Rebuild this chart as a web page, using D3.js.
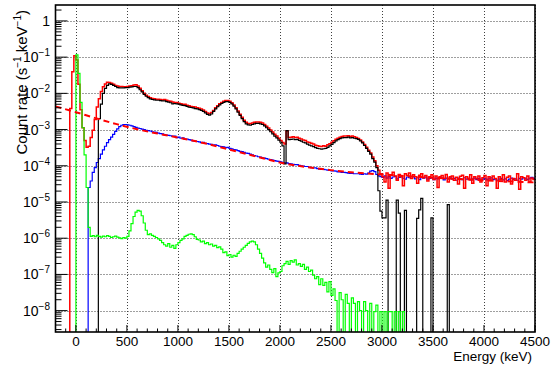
<!DOCTYPE html>
<html>
<head>
<meta charset="utf-8">
<script src="https://cdn.jsdelivr.net/npm/d3@7"></script>
<style>
  body { margin: 0; background: #fff; }
  svg { display: block; }
  text { font-family: "Liberation Sans", Arial, Helvetica, sans-serif; fill: #000; }
</style>
</head>
<body>
<div id="chart"></div>
<script>
// Histogram bin contents as log10(count rate), 20 keV bins.
const binWidth = 20;

const redStart = -60;
const redLog = [
  -2.42, -1.40, -0.96, -1.08, -1.75, -2.45, -2.95, -3.30, -3.49, -3.46,
  -3.22, -3.02, -2.72, -2.38, -2.15, -1.95, -1.82, -1.74, -1.69, -1.70,
  -1.72, -1.75, -1.78, -1.80, -1.81, -1.81, -1.82, -1.82, -1.81, -1.80,
  -1.79, -1.77, -1.76, -1.80, -1.86, -1.93, -2.00, -2.05, -2.09, -2.12,
  -2.14, -2.15, -2.16, -2.16, -2.17, -2.18, -2.17, -2.19, -2.21, -2.22,
  -2.24, -2.25, -2.25, -2.27, -2.29, -2.30, -2.30, -2.33, -2.34, -2.36,
  -2.37, -2.38, -2.40, -2.41, -2.43, -2.46, -2.50, -2.54, -2.56, -2.53,
  -2.47, -2.40, -2.34, -2.29, -2.25, -2.22, -2.20, -2.20, -2.22, -2.26,
  -2.32, -2.40, -2.49, -2.58, -2.66, -2.74, -2.80, -2.83, -2.84, -2.82,
  -2.80, -2.79, -2.79, -2.80, -2.82, -2.86, -2.91, -2.96, -3.01, -3.07,
  -3.13, -3.18, -3.24, -3.30, -3.36, -3.40, -3.03, -3.22, -3.21, -3.20,
  -3.22, -3.21, -3.24, -3.26, -3.29, -3.30, -3.34, -3.36, -3.38, -3.40,
  -3.43, -3.45, -3.46, -3.47, -3.45, -3.46, -3.42, -3.39, -3.35, -3.31,
  -3.27, -3.24, -3.21, -3.19, -3.18, -3.18, -3.17, -3.19, -3.18, -3.20,
  -3.22, -3.25, -3.29, -3.34, -3.41, -3.49, -3.57, -3.65, -3.76, -3.86,
  -4.00, -4.12,
  -4.22, -4.30, -4.45, -4.20, -4.62, -4.25, -4.18, -4.28, -4.40, -4.24,
  -4.30, -4.55, -4.22, -4.27, -4.20, -4.35, -4.25, -4.30, -4.48, -4.26,
  -4.22, -4.33, -4.27, -4.42, -4.30, -4.25, -4.38, -4.28, -4.60, -4.30,
  -4.27, -4.35, -4.24, -4.45, -4.30, -4.28, -4.40, -4.32, -4.50, -4.29,
  -4.26, -4.62, -4.30, -4.35, -4.25, -4.48, -4.30, -4.36, -4.28, -4.45,
  -4.33, -4.27, -4.55, -4.30, -4.40, -4.28, -4.35, -4.62, -4.30, -4.38,
  -4.25, -4.45, -4.32, -4.28, -4.50, -4.35, -4.40, -4.22, -4.65, -4.30,
  -4.33, -4.40, -4.28, -4.45, -4.34, -4.38
];

const blackStart = 220;
const blackLog = [
  -2.70, -2.30, -2.00, -1.86, -1.78, -1.74, -1.75, -1.78, -1.81, -1.84,
  -1.85, -1.85, -1.85, -1.84, -1.84, -1.83, -1.82, -1.81, -1.81, -1.84,
  -1.90, -1.96, -2.03, -2.08, -2.12, -2.15, -2.17, -2.18, -2.19, -2.19,
  -2.20, -2.21, -2.21, -2.23, -2.24, -2.26, -2.29, -2.28, -2.29, -2.30,
  -2.32, -2.33, -2.34, -2.36, -2.38, -2.39, -2.40, -2.42, -2.43, -2.45,
  -2.47, -2.50, -2.54, -2.58, -2.60, -2.57, -2.50, -2.43, -2.37, -2.32,
  -2.28, -2.25, -2.23, -2.23, -2.25, -2.29, -2.35, -2.43, -2.52, -2.61,
  -2.70, -2.78, -2.84, -2.87, -2.88, -2.86, -2.84, -2.83, -2.83, -2.84,
  -2.86, -2.90, -2.95, -3.00, -3.06, -3.12, -3.18, -3.23, -3.29, -3.35,
  -3.45, -3.95, -3.03, -3.28, -3.27, -3.26, -3.28, -3.27, -3.30, -3.32,
  -3.35, -3.37, -3.40, -3.43, -3.45, -3.47, -3.50, -3.52, -3.53, -3.54,
  -3.53, -3.52, -3.49, -3.45, -3.41, -3.36, -3.31, -3.28, -3.25, -3.23,
  -3.22, -3.22, -3.21, -3.23, -3.22, -3.24, -3.25, -3.27, -3.31, -3.37,
  -3.44, -3.52, -3.60, -3.68, -3.80, -3.90, -4.05, -4.69, -5.25, -5.44,
  -5.44, -4.95, null, null, null, null, -4.95, -5.31, null, null,
  -5.23, null, null, null, null, null, -5.45, -5.22, -4.90, null,
  null, null, null, -5.44, null, null, null, null, null, null,
  null, -5.07, null
];

const blueStart = 120;
const blueLog = [
  -4.60, -4.42, -4.18, -4.05, -3.91, -3.80, -3.68, -3.56, -3.46, -3.36,
  -3.28, -3.21, -3.13, -3.05, -2.98, -2.92, -2.88, -2.86, -2.86, -2.87,
  -2.88, -2.90, -2.92, -2.94, -2.96, -2.97, -2.99, -3.00, -3.02, -3.03,
  -3.04, -3.06, -3.07, -3.08, -3.10, -3.11, -3.12, -3.14, -3.15, -3.16,
  -3.17, -3.19, -3.18, -3.22, -3.21, -3.24, -3.23, -3.27, -3.26, -3.28,
  -3.29, -3.31, -3.32, -3.33, -3.34, -3.36, -3.35, -3.38, -3.39, -3.40,
  -3.41, -3.43, -3.42, -3.44, -3.46, -3.47, -3.48, -3.50, -3.49, -3.52,
  -3.53, -3.55, -3.56, -3.58, -3.60, -3.61, -3.63, -3.65, -3.66, -3.68,
  -3.70, -3.72, -3.73, -3.75, -3.76, -3.78, -3.79, -3.80, -3.82, -3.83,
  -3.84, -3.86, -3.87, -3.88, -3.89, -3.91, -3.92, -3.92, -3.94, -3.95,
  -3.96, -3.97, -3.97, -3.99, -4.00, -4.01, -4.02, -4.02, -4.04, -4.05,
  -4.06, -4.06, -4.08, -4.09, -4.10, -4.10, -4.11, -4.12, -4.13, -4.14,
  -4.14, -4.15, -4.17, -4.17, -4.18, -4.18, -4.19, -4.20, -4.21, -4.21,
  -4.22, -4.22, -4.22, -4.23, -4.24, -4.22, -4.23, -4.20, -4.15, -4.13,
  -4.16, -4.24, -4.28,
  -4.30, -4.32, -4.28, -4.34, -4.30, -4.35, -4.31, -4.29, -4.36, -4.32,
  -4.30, -4.34, -4.37, -4.31, -4.33, -4.35, -4.30, -4.36, -4.33, -4.38,
  -4.32, -4.34, -4.31, -4.37, -4.35, -4.33, -4.38, -4.34, -4.36, -4.32,
  -4.35, -4.39, -4.34, -4.36, -4.33, -4.37, -4.35, -4.40, -4.34, -4.36,
  -4.38, -4.33, -4.37, -4.35, -4.39, -4.36, -4.34, -4.38, -4.35, -4.40,
  -4.37, -4.35, -4.39, -4.36, -4.33, -4.38, -4.36, -4.40, -4.37, -4.35,
  -4.39, -4.36, -4.41, -4.37, -4.34, -4.38, -4.36, -4.40, -4.35, -4.37,
  -4.33, -4.36, -4.38, -4.34, -4.32, -4.35
];

const greenStart = 0;
const greenLog = [
  -0.94, -1.45, -2.25, -2.95, -3.70, -4.60, -5.70, -5.95, -5.93, -5.96,
  -5.92, -5.95, -5.97, -5.94, -5.96, -5.93, -5.95, -5.98, -5.96, -5.94,
  -5.97, -5.99, -6.01, -5.98, -6.00, -5.95, -5.80, -5.60, -5.40, -5.28,
  -5.23, -5.25, -5.38, -5.58, -5.78, -5.90, -5.88, -5.92, -5.95, -5.98,
  -6.02, -6.06, -6.12, -6.18, -6.22, -6.15, -6.25, -6.20, -6.28, -6.18,
  -6.12, -6.06, -6.02, -5.95, -5.92, -5.89, -5.88, -5.90, -5.96, -6.03,
  -6.05, -6.10, -6.08, -6.15, -6.12, -6.18, -6.16, -6.22, -6.20, -6.26,
  -6.24, -6.30, -6.40, -6.38, -6.48, -6.45, -6.52, -6.47, -6.50, -6.42,
  -6.36, -6.30, -6.25, -6.20, -6.14, -6.10, -6.08, -6.10, -6.18, -6.30,
  -6.42, -6.55, -6.68, -6.80, -6.74, -6.86, -6.95, -6.84, -7.06, -6.96,
  -6.92, -6.76, -6.70, -6.64, -6.72, -6.62, -6.66, -6.60, -6.74, -6.70,
  -6.78, -6.72, -6.86, -6.80, -6.92, -6.88, -7.02, -7.12, -7.06, -7.28,
  -7.12, -7.30, -7.22, -7.48, -7.20, -7.58, -7.40, -7.72, null, -7.50,
  -7.70, null, -7.55, -7.80, null, -7.65, -7.80, null, -7.75, -8.00,
  null, -7.75, -8.00, null, -7.80, null, -8.03, -7.85, null, -8.03,
  null, -8.03, null, -8.03, -8.03, null, -8.03, null, -8.03, null,
  -8.03, null
];

// Fitted background (red dashed), energy in keV and log10(count rate)
const fitEnergy = [-200, 0, 200, 400, 600, 800, 1000, 1250, 1500, 1750, 2000, 2250, 2500, 2750, 3000, 3500, 4000, 4500];
const fitLog = [-2.36, -2.52, -2.69, -2.85, -2.99, -3.11, -3.22, -3.37, -3.55, -3.73, -3.91, -4.03, -4.12, -4.19, -4.24, -4.33, -4.40, -4.46];

const xTicks = [0, 500, 1000, 1500, 2000, 2500, 3000, 3500, 4000, 4500];
const yDecades = [0, -1, -2, -3, -4, -5, -6, -7, -8];

const W = 554, H = 365;
const L = 55.5, R = 535, T = 5, B = 332;

const svg = d3.select('#chart').append('svg')
  .attr('width', W).attr('height', H);

const x = d3.scaleLinear().domain([-200, 4500]).range([L, R]);
const y = d3.scaleLog().domain([Math.pow(10, -8.59), Math.pow(10, 0.44)]).range([B, T]);

svg.append('defs').append('clipPath').attr('id', 'clip')
  .append('rect').attr('x', L).attr('y', T).attr('width', R - L).attr('height', B - T);

// grid
const grid = svg.append('g')
  .attr('stroke', '#000').attr('stroke-width', 1).attr('stroke-dasharray', '1,2').attr('opacity', 0.75);
grid.selectAll('line.gx').data(xTicks).join('line')
  .attr('x1', d => Math.round(x(d)) + 0.5).attr('x2', d => Math.round(x(d)) + 0.5)
  .attr('y1', T).attr('y2', B);
grid.selectAll('line.gy').data(yDecades).join('line')
  .attr('y1', d => Math.round(y(Math.pow(10, d))) + 0.5).attr('y2', d => Math.round(y(Math.pow(10, d))) + 0.5)
  .attr('x1', L).attr('x2', R);

// step histogram path; null bins fall to the bottom of the frame
function histPath(start, vals) {
  const p = d3.path();
  let open = false;
  vals.forEach((v, i) => {
    const e0 = start + i * binWidth, e1 = e0 + binWidth;
    if (v === null) {
      if (open) { p.lineTo(x(e0), B + 2); open = false; }
      return;
    }
    const yy = y(Math.pow(10, v));
    if (!open) { p.moveTo(x(e0), B + 2); open = true; }
    p.lineTo(x(e0), yy);
    p.lineTo(x(e1), yy);
  });
  return p.toString();
}

const plot = svg.append('g').attr('clip-path', 'url(#clip)').attr('fill', 'none');

plot.append('path').attr('d', histPath(blueStart, blueLog))
  .attr('stroke', '#0000ff').attr('stroke-width', 1.2);
plot.append('path').attr('d', histPath(redStart, redLog))
  .attr('stroke', '#ff0000').attr('stroke-width', 1.5);
plot.append('path').attr('d', histPath(blackStart, blackLog))
  .attr('stroke', '#000').attr('stroke-width', 1.2);
plot.append('path').attr('d', histPath(greenStart, greenLog))
  .attr('stroke', '#00ff00').attr('stroke-width', 1.2);

const fitLine = d3.line()
  .x((d, i) => x(fitEnergy[i]))
  .y(d => y(Math.pow(10, d)))
  .curve(d3.curveMonotoneX);
plot.append('path').attr('d', fitLine(fitLog))
  .attr('stroke', '#ff0000').attr('stroke-width', 2).attr('stroke-dasharray', '6,4');

// frame
svg.append('rect').attr('x', L).attr('y', T).attr('width', R - L).attr('height', B - T)
  .attr('fill', 'none').attr('stroke', '#000').attr('stroke-width', 1.6);

// x ticks (inside, pointing up)
const xMinor = d3.range(-100, 4500, 100).filter(v => v % 500 !== 0);
const ticks = svg.append('g').attr('stroke', '#000').attr('stroke-width', 1);
ticks.selectAll('line.xM').data(xTicks).join('line')
  .attr('x1', d => x(d)).attr('x2', d => x(d)).attr('y1', B).attr('y2', B - 7);
ticks.selectAll('line.xm').data(xMinor).join('line')
  .attr('x1', d => x(d)).attr('x2', d => x(d)).attr('y1', B).attr('y2', B - 3.5);

// y ticks (log, inside)
const yMinor = [];
for (let d = -9; d <= 0; d++) for (let m = 2; m <= 9; m++) {
  const v = m * Math.pow(10, d);
  if (v > y.domain()[0] && v < y.domain()[1]) yMinor.push(v);
}
ticks.selectAll('line.yM').data(yDecades).join('line')
  .attr('x1', L).attr('x2', L + 12)
  .attr('y1', d => y(Math.pow(10, d))).attr('y2', d => y(Math.pow(10, d)));
ticks.selectAll('line.ym').data(yMinor).join('line')
  .attr('x1', L).attr('x2', L + 6)
  .attr('y1', d => y(d)).attr('y2', d => y(d));

// x tick labels
svg.append('g').selectAll('text').data(xTicks).join('text')
  .attr('x', d => x(d)).attr('y', 346)
  .attr('text-anchor', 'middle').attr('font-size', 13.5)
  .text(d => d);

// y tick labels with superscript exponents
const yl = svg.append('g').selectAll('text').data(yDecades).join('text')
  .attr('x', 50).attr('y', d => y(Math.pow(10, d)) + 5)
  .attr('text-anchor', 'end').attr('font-size', 14);
yl.each(function (d) {
  const t = d3.select(this);
  if (d === 0) { t.text('1'); return; }
  t.append('tspan').text('10');
  t.append('tspan').attr('dy', -6).attr('font-size', 10).text('\u2212' + (-d));
});

// axis titles
svg.append('text')
  .attr('x', 532).attr('y', 361)
  .attr('text-anchor', 'end').attr('font-size', 13.5)
  .text('Energy (keV)');

const yt = svg.append('text')
  .attr('transform', 'translate(27,10) rotate(-90)')
  .attr('text-anchor', 'end').attr('font-size', 15);
yt.append('tspan').text('Count rate (s');
yt.append('tspan').attr('dy', -6).attr('font-size', 10).text('\u22121');
yt.append('tspan').attr('dy', 6).text(' keV');
yt.append('tspan').attr('dy', -6).attr('font-size', 10).text('\u22121');
yt.append('tspan').attr('dy', 6).text(')');
</script>
</body>
</html>
